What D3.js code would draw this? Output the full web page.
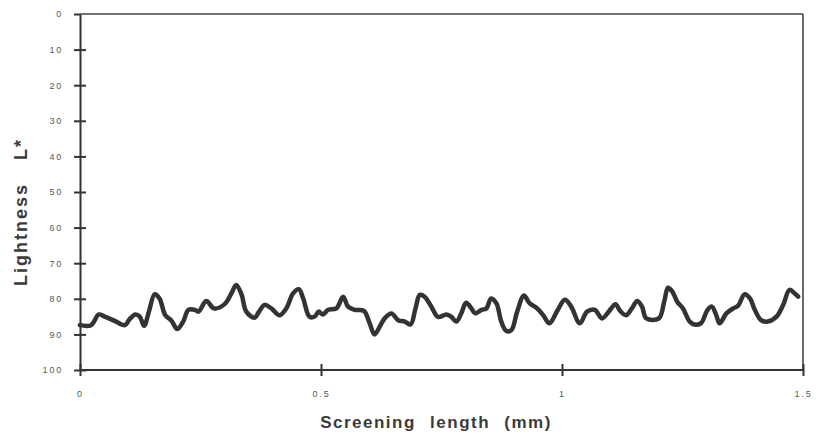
<!DOCTYPE html>
<html>
<head>
<meta charset="utf-8">
<script src="https://cdn.jsdelivr.net/npm/d3@7"></script>
<style>
body { margin: 0; background: #fff; }
.axis text { font-family: "Liberation Sans", Arial, sans-serif; font-size: 9px; fill: #555; letter-spacing: 1.8px; }
.axis line, .axis path { stroke: #333; stroke-width: 2; }
.title { font-family: "Liberation Sans", Arial, sans-serif; font-weight: bold; font-size: 17px; fill: #3a3a3a; letter-spacing: 1.5px; word-spacing: 8px; }
</style>
</head>
<body>
<div id="plot"></div>
<script>
// screening length (mm) and lightness L*
var distance = [0, 0.023, 0.039, 0.051, 0.072, 0.093, 0.103, 0.115, 0.124, 0.133, 0.143, 0.155, 0.165, 0.177, 0.189, 0.202, 0.214, 0.225, 0.238, 0.246, 0.262, 0.278, 0.300, 0.314, 0.324, 0.335, 0.345, 0.362, 0.372,
	0.383, 0.397, 0.414, 0.428, 0.442, 0.454, 0.463, 0.476, 0.487, 0.495, 0.504, 0.515, 0.532, 0.546, 0.556, 0.570, 0.589, 0.601, 0.611, 0.622, 0.632, 0.646, 0.660, 0.674, 0.686, 0.696, 0.705, 0.715, 0.729, 0.743,
	0.760, 0.770, 0.781, 0.791, 0.801, 0.812, 0.820, 0.833, 0.843, 0.853, 0.864, 0.874, 0.884, 0.895, 0.907, 0.921, 0.933, 0.947, 0.961, 0.974, 0.990, 1.006, 1.019, 1.037, 1.052, 1.068, 1.083, 1.097, 1.111, 1.120,
	1.133, 1.145, 1.156, 1.166, 1.175, 1.201, 1.212, 1.220, 1.229, 1.239, 1.251, 1.265, 1.275, 1.288, 1.302, 1.311, 1.320, 1.327, 1.341, 1.355, 1.365, 1.379, 1.390, 1.400, 1.413, 1.427, 1.445, 1.459, 1.472, 1.483, 1.490];
var lightness = [87.4, 87.4, 84.4, 85.0, 86.2, 87.4, 85.7, 84.4, 85.0, 87.6, 83.6, 78.7, 79.9, 84.6, 86.0, 88.5, 86.4, 83.1, 83.1, 83.6, 80.6, 82.7, 81.5, 78.5, 76.1, 78.7, 83.6, 85.3, 83.5,
	81.7, 82.7, 84.6, 82.7, 78.5, 77.3, 79.9, 85.0, 85.0, 83.6, 84.4, 83.1, 82.7, 79.4, 82.2, 83.1, 83.4, 86.9, 90.0, 87.8, 85.5, 84.1, 86.0, 86.4, 87.2, 82.7, 78.9, 79.4, 82.2, 85.1,
	84.4, 85.0, 86.4, 84.1, 81.1, 82.7, 84.1, 83.1, 82.7, 79.9, 81.3, 86.4, 89.0, 88.8, 83.6, 79.1, 81.3, 82.5, 84.6, 86.9, 83.4, 80.3, 82.2, 86.9, 83.6, 83.1, 85.5, 83.6, 81.5, 83.3,
	84.6, 82.7, 80.6, 82.2, 85.5, 85.5, 80.8, 76.9, 78.0, 80.8, 82.7, 86.4, 87.2, 86.9, 83.1, 82.2, 84.6, 86.9, 84.1, 82.7, 82.0, 78.7, 79.9, 83.1, 86.0, 86.4, 85.0, 81.7, 77.5, 78.5, 79.4];

var yTicks = [0, 10, 20, 30, 40, 50, 60, 70, 80, 90, 100];
var xTicks = [0, 0.5, 1, 1.5];

var w = 816;
var h = 439;
var padLeft = 80, padRight = 803, padTop = 14, padBottom = 370;

var xScale = d3.scaleLinear().domain([0, 1.5]).range([padLeft, padRight]);
var yScale = d3.scaleLinear().domain([0, 100]).range([padTop, padBottom]);

var svg = d3.select("#plot").append("svg").attr("width", w).attr("height", h);

// frame top and right
svg.append("line").attr("x1", padLeft).attr("y1", padTop).attr("x2", padRight).attr("y2", padTop)
	.attr("stroke", "#444").attr("stroke-width", 1.6);
svg.append("line").attr("x1", padRight).attr("y1", padTop).attr("x2", padRight).attr("y2", padBottom)
	.attr("stroke", "#444").attr("stroke-width", 1.6);

var yAxis = d3.axisLeft(yScale).tickValues(yTicks).tickSize(6).tickSizeOuter(0).tickPadding(11)
	.tickFormat(d3.format("d"));
var xAxis = d3.axisBottom(xScale).tickValues(xTicks).tickSize(6).tickSizeOuter(0).tickPadding(15)
	.tickFormat(function(d) { return String(d); });

var gy = svg.append("g").attr("class", "axis").attr("transform", "translate(" + padLeft + ",0)").call(yAxis);
gy.selectAll(".tick line").attr("x1", 6).attr("x2", -6);
gy.select(".tick line").attr("x1", 0);

var gx = svg.append("g").attr("class", "axis").attr("transform", "translate(0," + padBottom + ")").call(xAxis);
gx.selectAll(".tick line").attr("y1", -6).attr("y2", 6);
gx.select(".domain").attr("d", "M" + padLeft + ",0H" + padRight);

var pts = distance.map(function(d, i) { return [d, lightness[i]]; });
var line = d3.line()
	.curve(d3.curveCatmullRom.alpha(0.5))
	.x(function(d) { return xScale(d[0]); })
	.y(function(d) { return yScale(d[1]); });

svg.append("path")
	.datum(pts)
	.attr("d", line)
	.attr("fill", "none")
	.attr("stroke", "#333")
	.attr("stroke-width", 4.5)
	.attr("stroke-linejoin", "round")
	.attr("stroke-linecap", "round");

svg.append("text").attr("class", "title")
	.attr("x", 436).attr("y", 428).attr("text-anchor", "middle")
	.text("Screening length (mm)");

svg.append("text").attr("class", "title")
	.attr("transform", "translate(27,212) rotate(-90)")
	.attr("text-anchor", "middle")
	.style("font-size", "18px")
	.style("letter-spacing", "2px")
	.style("word-spacing", "16px")
	.text("Lightness L*");
</script>
</body>
</html>
